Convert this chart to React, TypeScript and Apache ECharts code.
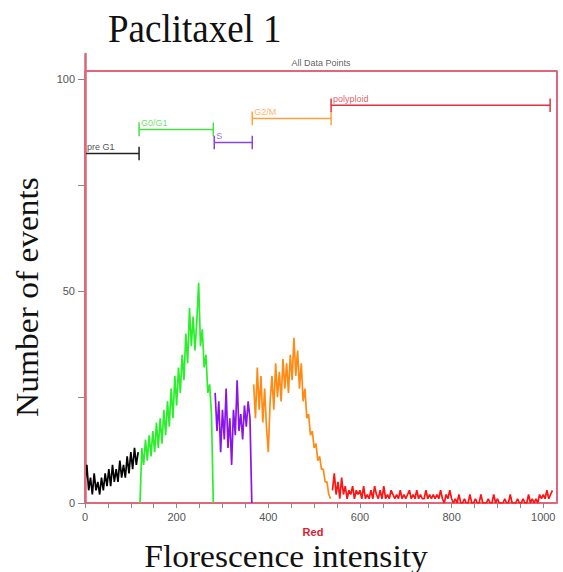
import React, { useEffect, useRef } from 'react';
import * as echarts from 'echarts';

// channel step between histogram bins
const STEP = 4;

// histogram counts per gate region
const preG1Start = 0;
const preG1Counts = [5, 9, 3, 6, 2, 7, 3, 5, 2, 6, 3, 7, 4, 8, 4, 9, 5, 8, 5, 10, 6, 9, 6, 11, 7, 12, 8, 13, 9, 12];

const g0g1Start = 120;
const g0g1Counts = [0, 13, 9, 15, 10, 16, 11, 17, 12, 19, 13, 20, 14, 22, 16, 24, 18, 27, 20, 30, 23, 32, 26, 35, 29, 40, 33, 46, 37, 44, 36, 43, 52, 37, 41, 32, 35, 26, 28, 21, 0];

const sStart = 284;
const sCounts = [26, 17, 24, 12, 22, 15, 27, 13, 20, 9, 22, 16, 29, 17, 21, 15, 23, 18, 24, 20, 0];

const g2mStart = 368;
const g2mCounts = [28, 20, 32, 22, 30, 19, 27, 18, 12, 24, 30, 22, 33, 25, 31, 24, 34, 27, 33, 26, 35, 29, 39, 30, 36, 27, 33, 24, 27, 20, 21, 16, 17, 13, 14, 10, 11, 8, 8, 5, 5, 2, 1];

const polyStart = 540;
const polyCounts = [3, 7, 2, 5, 1, 6, 2, 4, 1, 3, 2, 4, 1, 3, 2, 3, 1, 4, 1, 2, 1, 3, 1, 4, 2, 1, 3, 1, 4, 1, 2, 1, 3, 2, 1, 2, 1, 3, 1, 2, 1, 2, 3, 1, 2, 1, 3, 1, 2, 1, 1, 3, 1, 2, 1, 2, 1, 2, 1, 3, 1, 0, 2, 1, 3, 1, 0, 1, 0, 2, 0, 0, 1, 0, 0, 2, 0, 0, 1, 0, 0, 2, 0, 0, 0, 1, 0, 0, 2, 0, 1, 0, 0, 0, 1, 0, 0, 2, 0, 0, 0, 1, 0, 0, 1, 0, 0, 2, 0, 1, 0, 1, 0, 2, 1, 2, 1, 3, 1, 2, 3];

const segStarts = [preG1Start, g0g1Start, sStart, g2mStart, polyStart];
const segCounts = [preG1Counts, g0g1Counts, sCounts, g2mCounts, polyCounts];
const segColors = ['#000000', '#2bef2b', '#8a14ea', '#ff8a14', '#ff1414'];

// gates (markers)
const gateNames = ['pre G1', 'G0/G1', 'S', 'G2/M', 'polyploid'];
const gateFrom = [0, 118, 282, 365, 537];
const gateTo = [118, 280, 365, 537, 1015];
const gateLevel = [82.5, 88.2, 85.1, 90.8, 93.9];
const gateColors = ['#222222', '#44e044', '#8a44e0', '#ffa040', '#e03040'];

const allGateName = 'All Data Points';
const allGateFrom = 0;
const allGateTo = 1030;
const allGateLevel = 102;

// axes
const xMax = 1030;
const yMax = 106;
const xTickLabels = [0, 200, 400, 600, 800, 1000];
const xTicks = [0, 50, 100, 150, 200, 250, 300, 350, 400, 450, 500, 550, 600, 650, 700, 750, 800, 850, 900, 950, 1000];
const yTickLabels = [0, 50, 100];
const yTicks = [0, 25, 50, 75, 100];

export default function App() {
  const ref = useRef<HTMLDivElement>(null);

  useEffect(() => {
    if (!ref.current) return;
    const chart = echarts.init(ref.current, null, { renderer: 'svg' });

    const histSeries = segCounts.map((counts, k) => ({
      type: 'line',
      name: gateNames[k],
      data: counts.map((v, i) => [segStarts[k] + i * STEP, v]),
      symbol: 'none',
      lineStyle: { color: segColors[k], width: 1.7 },
      z: 3,
    }));

    const cap = 1.6;
    const gateSeries = gateNames.map((n, k) => ({
      type: 'line',
      name: n + ' gate',
      data: [
        [gateFrom[k], gateLevel[k] - cap],
        [gateFrom[k], gateLevel[k] + cap],
        [gateFrom[k], gateLevel[k]],
        [gateTo[k], gateLevel[k]],
        [gateTo[k], gateLevel[k] + cap],
        [gateTo[k], gateLevel[k] - cap],
      ],
      symbol: 'none',
      lineStyle: { color: gateColors[k], width: 1.5 },
      z: 4,
    }));

    const allGateSeries = {
      type: 'line',
      name: allGateName,
      data: [
        [allGateFrom, 0],
        [allGateFrom, allGateLevel],
        [allGateTo, allGateLevel],
        [allGateTo, 0],
      ],
      symbol: 'none',
      lineStyle: { color: '#e0667a', width: 2 },
      z: 5,
    };

    const gateLabelSeries = {
      type: 'scatter',
      symbolSize: 0,
      data: gateNames.map((n, k) => ({
        value: [gateFrom[k], gateLevel[k]],
        label: {
          show: true,
          formatter: n,
          position: [2, -11],
          color: gateColors[k],
          fontSize: 9,
          fontFamily: 'Liberation Sans, Arial, sans-serif',
        },
      })).concat([
        {
          value: [(allGateFrom + allGateTo) / 2, allGateLevel],
          label: {
            show: true,
            formatter: allGateName,
            position: 'top',
            distance: 3,
            color: '#333333',
            fontSize: 9,
            fontFamily: 'Liberation Sans, Arial, sans-serif',
          } as any,
        },
      ]),
      z: 6,
      silent: true,
    };

    chart.setOption({
      animation: false,
      backgroundColor: '#ffffff',
      grid: { left: 85, right: 6, top: 54, bottom: 69 },
      xAxis: {
        type: 'value',
        min: 0,
        max: xMax,
        axisLine: { show: true, onZero: false, lineStyle: { color: '#e0667a', width: 2 } },
        axisTick: { show: true, customValues: xTicks, length: 5, lineStyle: { color: '#888888' } },
        axisLabel: {
          customValues: xTickLabels,
          formatter: (v: number) => String(v),
          color: '#555555',
          fontSize: 11,
          fontFamily: 'Liberation Sans, Arial, sans-serif',
          margin: 8,
        },
        splitLine: { show: false },
      },
      yAxis: {
        type: 'value',
        min: 0,
        max: yMax,
        axisLine: { show: true, onZero: false, lineStyle: { color: '#d06a7a', width: 2.5 } },
        axisTick: { show: true, customValues: yTicks, length: 7, lineStyle: { color: '#888888' } },
        axisLabel: {
          customValues: yTickLabels,
          formatter: (v: number) => String(v),
          color: '#555555',
          fontSize: 11,
          fontFamily: 'Liberation Sans, Arial, sans-serif',
          margin: 10,
        },
        splitLine: { show: false },
      },
      series: [...histSeries, ...gateSeries, allGateSeries, gateLabelSeries],
      graphic: [
        {
          type: 'text',
          x: 108,
          y: 8,
          scaleY: 1.1,
          style: {
            text: 'Paclitaxel 1',
            fontSize: 37,
            fontFamily: 'Liberation Serif, Times New Roman, serif',
            fill: '#111111',
          },
        },
        {
          type: 'text',
          x: 286,
          y: 556,
          scaleX: 1.08,
          style: {
            text: 'Florescence intensity',
            fontSize: 31,
            fontFamily: 'Liberation Serif, Times New Roman, serif',
            fill: '#111111',
            align: 'center',
            verticalAlign: 'middle',
          },
        },
        {
          type: 'text',
          x: 27,
          y: 297,
          rotation: Math.PI / 2,
          scaleX: 1.08,
          style: {
            text: 'Number of events',
            fontSize: 31,
            fontFamily: 'Liberation Serif, Times New Roman, serif',
            fill: '#111111',
            align: 'center',
            verticalAlign: 'middle',
          },
        },
        {
          type: 'text',
          x: 313,
          y: 532,
          style: {
            text: 'Red',
            fontSize: 11,
            fontWeight: 'bold',
            fontFamily: 'Liberation Sans, Arial, sans-serif',
            fill: '#e02030',
            align: 'center',
            verticalAlign: 'middle',
          },
        },
      ],
    });

    return () => chart.dispose();
  }, []);

  return (
    <div
      ref={ref}
      style={{ position: 'fixed', left: 0, top: 0, width: 563, height: 572, background: '#fff' }}
    />
  );
}
